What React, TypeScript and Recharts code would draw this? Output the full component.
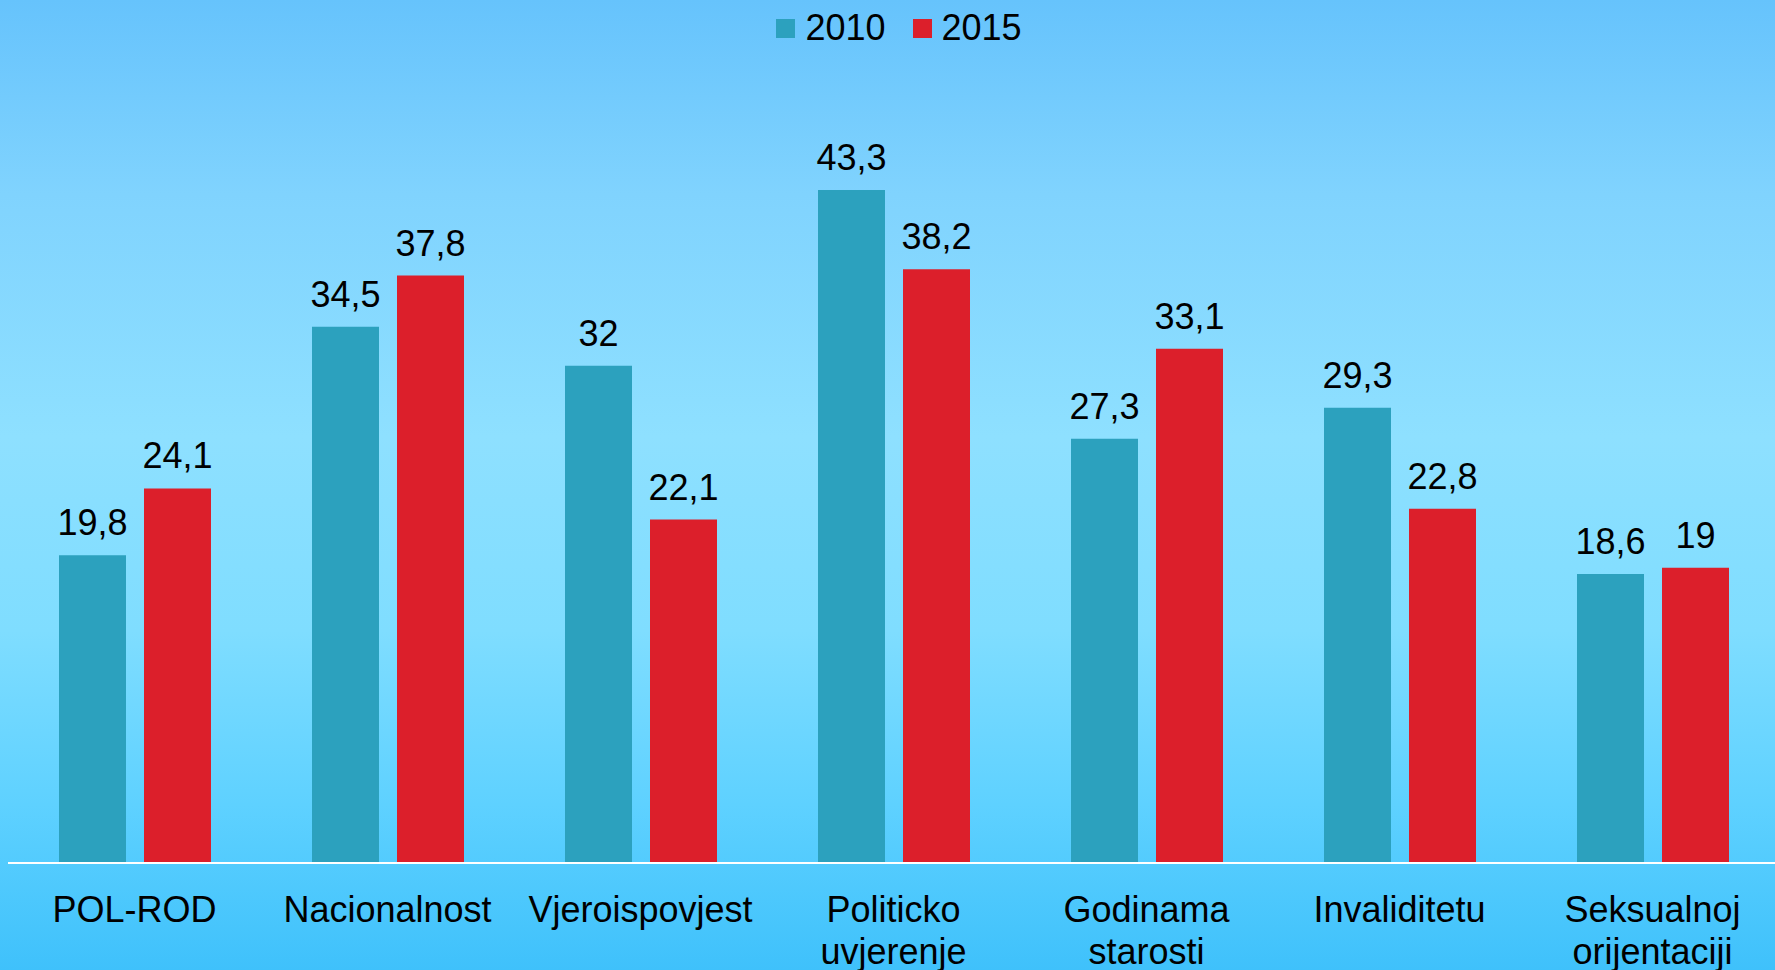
import React from "react";
import { BarChart, Bar, XAxis, YAxis, Legend, LabelList } from "recharts";

const categories = [
  "POL-ROD",
  "Nacionalnost",
  "Vjeroispovjest",
  "Politicko uvjerenje",
  "Godinama starosti",
  "Invaliditetu",
  "Seksualnoj orijentaciji",
];
const values2010 = [19.8, 34.5, 32, 43.3, 27.3, 29.3, 18.6];
const values2015 = [24.1, 37.8, 22.1, 38.2, 33.1, 22.8, 19];
const seriesNames = ["2010", "2015"];
const seriesColors = ["#2CA1BE", "#DC1F2B"];

const data = categories.map((c, i) => ({
  name: c,
  v2010: values2010[i],
  v2015: values2015[i],
}));

const FONT = "'Liberation Sans', Arial, sans-serif";

const fmt = (v: any) => String(v).replace(".", ",");

const CatTick = (props: any) => {
  const { x, y, payload } = props;
  const words = String(payload.value).split(" ");
  return (
    <g>
      {words.map((w: string, i: number) => (
        <text
          key={i}
          x={x}
          y={y + 51 + i * 42}
          textAnchor="middle"
          fontSize={36}
          fontFamily={FONT}
          fill="#000"
        >
          {w}
        </text>
      ))}
    </g>
  );
};

const LegendContent = () => (
  <div
    style={{
      display: "flex",
      justifyContent: "center",
      alignItems: "center",
      height: 56,
      paddingLeft: 11,
      fontFamily: FONT,
      fontSize: 36,
      color: "#000",
    }}
  >
    {seriesNames.map((n, i) => (
      <div key={n} style={{ display: "flex", alignItems: "center", marginRight: i === 0 ? 27 : 0 }}>
        <div style={{ width: 19, height: 19, background: seriesColors[i], marginRight: 10 }} />
        <span style={{ lineHeight: "36px" }}>{n}</span>
      </div>
    ))}
  </div>
);

export default function App() {
  return (
    <div
      style={{
        position: "fixed",
        left: 0,
        top: 0,
        width: 1775,
        height: 970,
        overflow: "hidden",
        background:
          "linear-gradient(to bottom, #66C3FC 0%, #80D3FE 20%, #8EE0FF 45%, #7FDDFF 65%, #5ED1FF 83%, #3FC1FB 100%)",
      }}
    >
      <BarChart
        width={1780}
        height={970}
        data={data}
        margin={{ top: 30, right: 1, left: 8, bottom: 0 }}
        barSize={67}
        barGap={18}
      >
        <Legend
          verticalAlign="top"
          align="center"
          content={<LegendContent />}
          wrapperStyle={{ top: 0 }}
        />
        <XAxis
          dataKey="name"
          height={107}
          tick={<CatTick />}
          tickLine={false}
          axisLine={{ stroke: "#FFFFFF", strokeWidth: 2 }}
          interval={0}
        />
        <YAxis hide domain={[0, 50]} />
        <Bar dataKey="v2010" name={seriesNames[0]} fill={seriesColors[0]} isAnimationActive={false}>
          <LabelList dataKey="v2010" position="top" offset={20} formatter={fmt} fontSize={36} fontFamily={FONT} fill="#000" />
        </Bar>
        <Bar dataKey="v2015" name={seriesNames[1]} fill={seriesColors[1]} isAnimationActive={false}>
          <LabelList dataKey="v2015" position="top" offset={20} formatter={fmt} fontSize={36} fontFamily={FONT} fill="#000" />
        </Bar>
      </BarChart>
    </div>
  );
}
